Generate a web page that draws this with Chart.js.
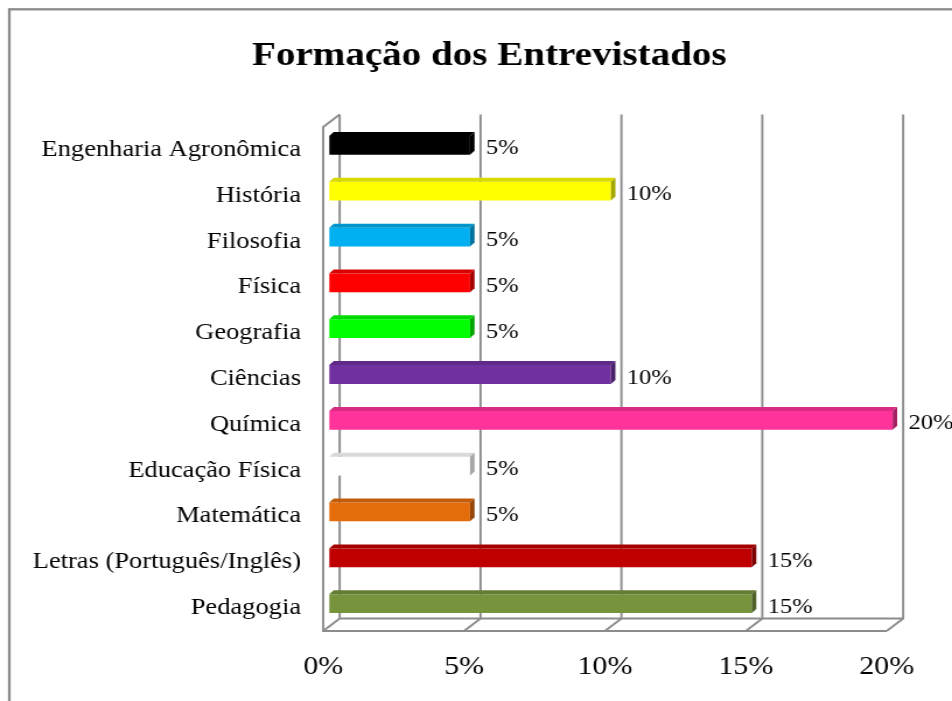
<!DOCTYPE html>
<html><head><meta charset="utf-8">
<script src="https://cdn.jsdelivr.net/npm/chart.js@4"></script>
<style>html,body{margin:0;padding:0;background:#fff;overflow:hidden}</style>
</head><body>
<canvas id="c" width="816" height="701" style="width:952px;height:701px;display:block"></canvas>
<script>
// ---- data ----
const categories = ['Engenharia Agronômica','História','Filosofia','Física','Geografia','Ciências','Química','Educação Física','Matemática','Letras (Português/Inglês)','Pedagogia'];
const values = [5,10,5,5,5,10,20,5,5,15,15];
const valueLabels = ['5%','10%','5%','5%','5%','10%','20%','5%','5%','15%','15%'];
const xTickValues = [0,5,10,15,20];
const xTickLabels = ['0%','5%','10%','15%','20%'];
const barColors = ['#000000','#FFFF00','#00B0F0','#FF0000','#00FF00','#7030A0','#FF3399','#FFFFFF','#E46C0A','#C00000','#77933C'];

// ---- geometry (canvas is stretched horizontally like the reference) ----
const S = 952/816;
const DX = 16.5/S, DY = 12.5;
const OX = 6/S, OY = -4.5;
const BDX = 4.5/S, BDY = 4;
const FONT = "'Liberation Serif','Times New Roman',serif";

function shade(hex, f){
  const n = parseInt(hex.slice(1),16);
  const r = Math.round(((n>>16)&255)*f), g = Math.round(((n>>8)&255)*f), b = Math.round((n&255)*f);
  return `rgb(${r},${g},${b})`;
}
function poly(ctx, pts, fill){
  ctx.beginPath(); ctx.moveTo(pts[0][0], pts[0][1]);
  for (let i=1;i<pts.length;i++) ctx.lineTo(pts[i][0], pts[i][1]);
  ctx.closePath(); ctx.fillStyle = fill; ctx.fill();
}

const threeD = {
  id: 'threeD',
  afterLayout(chart){
    const t = chart.titleBlock;
    if (t) { t.left += 27.4; t.right += 27.4; }
  },
  beforeDraw(chart){
    const ctx = chart.ctx;
    ctx.save();
    ctx.strokeStyle = '#8a8a8a'; ctx.lineWidth = 2.3;
    ctx.strokeRect(8, 9.3, 900, 800);
    ctx.restore();
  },
  beforeDatasetsDraw(chart){
    const {ctx, chartArea: a, scales: {x}} = chart;
    ctx.save();
    ctx.strokeStyle = '#8c8c8c'; ctx.lineWidth = 1.9;
    const topB = a.top - DY, botB = a.bottom - DY;
    xTickValues.forEach(v => {
      const px = x.getPixelForValue(v);
      ctx.beginPath(); ctx.moveTo(px, a.bottom); ctx.lineTo(px+DX, botB); ctx.lineTo(px+DX, topB); ctx.stroke();
    });
    ctx.beginPath(); ctx.moveTo(a.left+DX, topB); ctx.lineTo(a.left, a.top); ctx.lineTo(a.left, a.bottom); ctx.lineTo(a.right, a.bottom); ctx.stroke();
    ctx.beginPath(); ctx.moveTo(a.left+DX, botB); ctx.lineTo(a.right+DX, botB); ctx.stroke();
    ctx.restore();
    ctx.save();
    ctx.translate(OX, OY);
  },
  afterDatasetsDraw(chart){
    const ctx = chart.ctx;
    const meta = chart.getDatasetMeta(0);
    meta.data.forEach((bar, i) => {
      const p = bar.getProps(['x','y','base','height'], true);
      const t = p.y - p.height/2, b = p.y + p.height/2;
      poly(ctx, [[p.base,t],[p.x,t],[p.x+BDX,t-BDY],[p.base+BDX,t-BDY]], shade(barColors[i],0.85));
      poly(ctx, [[p.x,t],[p.x+BDX,t-BDY],[p.x+BDX,b-BDY],[p.x,b]], shade(barColors[i],0.65));
    });
    ctx.restore();
    ctx.save();
    ctx.font = `21px ${FONT}`; ctx.fillStyle = '#000'; ctx.textBaseline = 'middle'; ctx.textAlign = 'left';
    meta.data.forEach((bar, i) => {
      ctx.fillText(valueLabels[i], bar.x + OX + 13.5, bar.y + OY + 3.5);
    });
    ctx.restore();
  }
};

new Chart(document.getElementById('c'), {
  type: 'bar',
  data: {
    labels: categories,
    datasets: [{ data: values, backgroundColor: barColors, borderWidth: 0, barPercentage: 0.41, categoryPercentage: 1 }]
  },
  options: {
    indexAxis: 'y',
    responsive: false,
    animation: false,
    devicePixelRatio: 1,
    layout: { padding: { left: 24, right: 56, top: 8, bottom: 0 } },
    plugins: {
      legend: { display: false },
      tooltip: { enabled: false },
      title: { display: true, text: 'Formação dos Entrevistados', color: '#000',
        font: { family: FONT, size: 33.5, weight: 'bold' }, padding: { top: 28, bottom: 50.8 } }
    },
    scales: {
      x: { min: 0, max: 20,
        grid: { display: false, drawTicks: false }, border: { display: false },
        afterBuildTicks: s => { s.ticks = xTickValues.map(v => ({ value: v })); },
        ticks: { color: '#000', font: { family: FONT, size: 25.7 }, padding: 21, maxRotation: 0,
          callback: (v, i) => xTickLabels[i] },
        afterFit: s => { s.height = 70; } },
      y: { grid: { display: false, drawTicks: false }, border: { display: false },
        ticks: { color: '#000', font: { family: FONT, size: 22.7 }, padding: 19 },
        afterFit: s => { s.width = 253; } }
    }
  },
  plugins: [threeD]
});
</script>
</body></html>
